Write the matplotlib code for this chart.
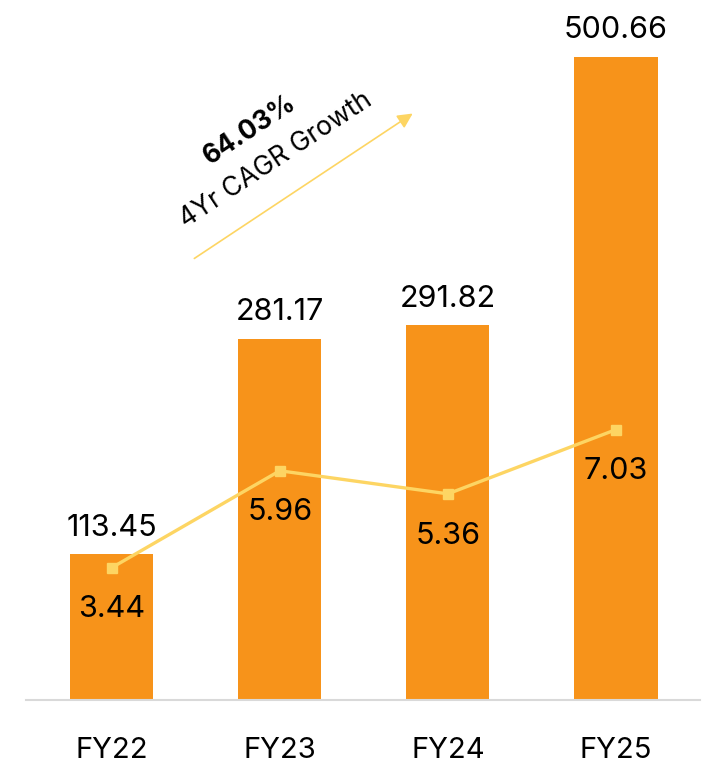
import numpy as np
import matplotlib.pyplot as plt

plt.rcParams['font.family'] = ['Inter', 'DejaVu Sans']

years = ["FY22", "FY23", "FY24", "FY25"]
revenue = [113.45, 281.17, 291.82, 500.66]
margin = [3.44, 5.96, 5.36, 7.03]

BAR = "#F7931A"
LINE = "#FDD563"

fig = plt.figure(figsize=(7.05, 7.69), dpi=100)
ax = fig.add_axes([26 / 705, 69 / 769, 674 / 705, 700 / 769])
x = np.arange(len(years))

ax.bar(x, revenue, width=0.495, color=BAR, zorder=2)
ax.set_xlim(-0.51, 3.50)
ax.set_ylim(0, 545)

for xi, v in zip(x, revenue):
    ax.annotate(f"{v:.2f}", (xi, v), xytext=(0, 9), textcoords="offset points",
                ha="center", va="bottom", fontsize=22, color="black")

for s in ["top", "left", "right"]:
    ax.spines[s].set_visible(False)
ax.spines["bottom"].set_color("#d9d9d9")
ax.spines["bottom"].set_linewidth(1.5)
ax.set_yticks([])
ax.set_xticks(x)
ax.set_xticklabels(years, fontsize=21)
ax.tick_params(axis="x", length=0, pad=27)

ax2 = ax.twinx()
ax2.set_ylim(0, 18.2)
ax2.plot(x, margin, color=LINE, lw=2.4, marker="s", markersize=7, zorder=3)
ax2.axis("off")
for xi, v in zip(x, margin):
    ax2.annotate(f"{v:.2f}", (xi, v), xytext=(0, -30), textcoords="offset points",
                 ha="center", va="center", fontsize=22, color="black")

# CAGR arrow
ax.annotate("", xy=(415 / 705, 1 - 112 / 769), xytext=(192 / 705, 1 - 260 / 769),
            xycoords="figure fraction", textcoords="figure fraction",
            arrowprops=dict(arrowstyle="-|>,head_length=0.9,head_width=0.45",
                            color=LINE, lw=1.2))
fig.text(250 / 705, 1 - 130 / 769, "64.03%", rotation=33.5, ha="center", va="center",
         fontsize=19, fontweight="bold", rotation_mode="anchor")
fig.text(276 / 705, 1 - 160 / 769, "4Yr CAGR Growth", rotation=33.5, ha="center",
         va="center", fontsize=19, rotation_mode="anchor")

fig.savefig("out.png", dpi=100)
